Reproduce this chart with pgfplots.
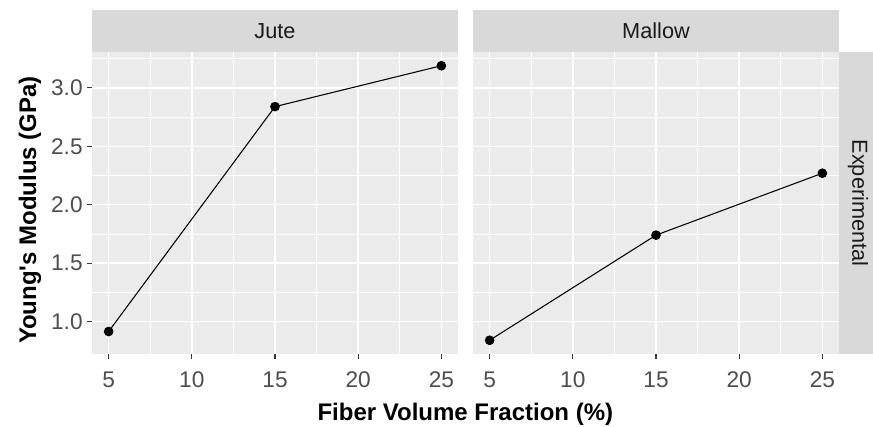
\documentclass[border=0pt]{standalone}
\usepackage{fontspec}
\setmainfont{Liberation Sans}[Ligatures=TeXOff]
\usepackage{pgfplots}
\pgfplotsset{compat=1.18}
\definecolor{panelbg}{HTML}{EBEBEB}
\definecolor{stripbg}{HTML}{D9D9D9}
\definecolor{ticklab}{HTML}{4D4D4D}
\definecolor{tickc}{HTML}{333333}
\definecolor{striptext}{HTML}{1A1A1A}
\pgfplotsset{
  panel/.style={
    scale only axis, width=274.5pt, height=226.5pt,
    xmin=4, xmax=26, ymin=0.7225, ymax=3.3075,
    axis background/.style={fill=panelbg},
    axis line style={draw=none},
    xtick={5,10,15,20,25},
    minor xtick={7.5,12.5,17.5,22.5},
    ytick={1,1.5,2,2.5,3},
    minor ytick={1.25,1.75,2.25,2.75,3.25},
    grid=both,
    major grid style={white, line width=1.1pt},
    minor grid style={white, line width=0.55pt},
    tick align=outside,
    major tick length=3.5pt,
    minor tick length=0pt,
    xtick pos=bottom, ytick pos=left,
    tick style={tickc, line width=0.8pt},
    ticklabel style={font=\fontsize{17}{20}\selectfont, text=ticklab},
    xticklabel style={yshift=-6.5pt},
    /pgf/number format/assume math mode=true,
    yticklabel style={/pgf/number format/.cd, fixed, fixed zerofill, precision=1},
    clip=false,
  },
  dataline/.style={black, line width=0.8pt, mark=*, mark size=3.2pt, mark options={solid, fill=black}},
}
\begin{document}
\begin{tikzpicture}
\useasboundingbox (0,0) rectangle (654.75pt,319.5pt);
% panel 1 (Jute)
\begin{axis}[panel, at={(69pt,54pt)}, anchor=south west]
\addplot[dataline] coordinates {(5,0.915) (15,2.84) (25,3.19)};
\end{axis}
% panel 2 (Mallow)
\begin{axis}[panel, at={(354.75pt,54pt)}, anchor=south west, yticklabels={}, ytick style={draw=none}]
\addplot[dataline] coordinates {(5,0.84) (15,1.74) (25,2.27)};
\end{axis}
% strips
\fill[stripbg] (69pt,280.5pt) rectangle (343.5pt,312pt);
\fill[stripbg] (354.75pt,280.5pt) rectangle (629.25pt,312pt);
\fill[stripbg] (629.25pt,54pt) rectangle (654.75pt,280.5pt);
\node[text=striptext, font=\fontsize{16.3}{19}\selectfont] at (206.25pt,296.25pt) {Jute};
\node[text=striptext, font=\fontsize{16.3}{19}\selectfont] at (492pt,296.25pt) {Mallow};
\node[text=striptext, font=\fontsize{16.3}{19}\selectfont, rotate=-90] at (643.5pt,167.25pt) {Experimental};
% axis titles
\node[font=\bfseries\fontsize{18}{21}\selectfont, anchor=base] at (349pt,4.5pt) {Fiber Volume Fraction (\%)};
\node[font=\bfseries\fontsize{18}{21}\selectfont, rotate=90] at (22.5pt,162pt) {Young's Modulus (GPa)};
\end{tikzpicture}
\end{document}
